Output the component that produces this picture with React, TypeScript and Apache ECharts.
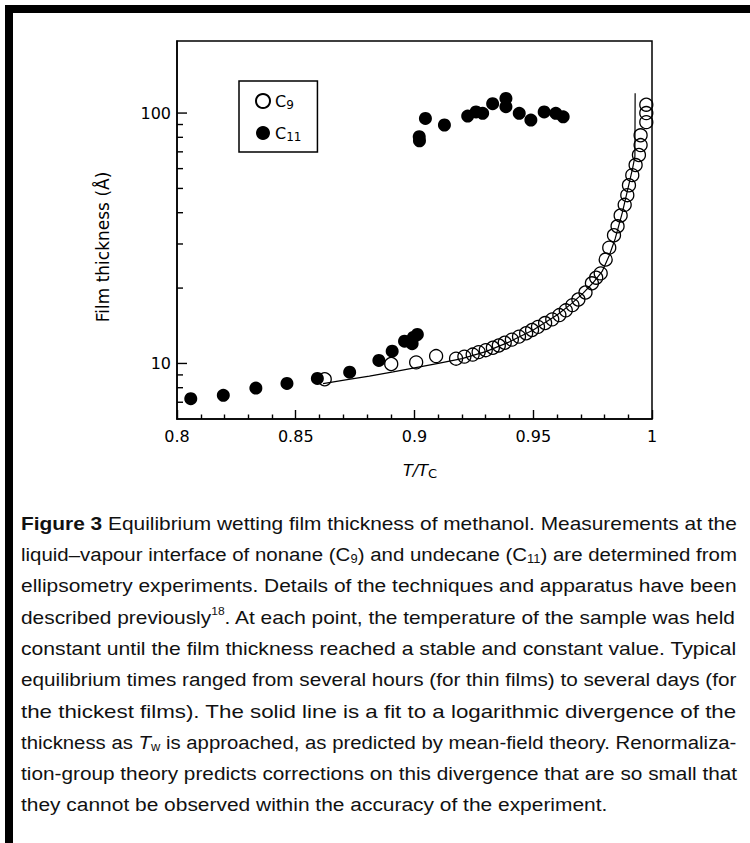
import React, { useEffect, useRef } from 'react';
import * as echarts from 'echarts';

// ---- data ----
const X_MIN = 0.8;
const X_MAX = 1;
const X_STEP = 0.05;
const Y_MIN = 6;
const Y_MAX = 194;
const Y_MAJOR = [10, 100];
const Y_MINOR = [7, 8, 9, 20, 30, 40, 50, 60, 70, 80, 90];

const C9_T = [0.8622, 0.8902, 0.9007, 0.9091, 0.9175, 0.921, 0.9245, 0.927, 0.930, 0.933, 0.9355, 0.938, 0.941, 0.944, 0.947, 0.9495, 0.952, 0.955, 0.958, 0.961, 0.9637, 0.9665, 0.969, 0.972, 0.9747, 0.9765, 0.9784, 0.9805, 0.982, 0.984, 0.9855, 0.9868, 0.9885, 0.9896, 0.9903, 0.9917, 0.9931, 0.9945, 0.9952, 0.9952, 0.9976, 0.9976, 0.9976];
const C9_V = [8.65, 9.95, 10.1, 10.7, 10.45, 10.65, 10.85, 11.1, 11.3, 11.55, 11.8, 12.1, 12.45, 12.8, 13.2, 13.6, 14.0, 14.5, 15.0, 15.6, 16.3, 17.1, 18.0, 19.2, 20.9, 22.0, 22.9, 26, 29, 32.5, 35.3, 39, 43, 47, 51.5, 56.5, 62, 68, 74.5, 81.5, 92, 100, 108];

const C11_T = [0.8058, 0.8195, 0.8332, 0.8463, 0.8591, 0.8727, 0.885, 0.8906, 0.8958, 0.899, 0.8995, 0.9012, 0.9021, 0.902, 0.9046, 0.9126, 0.9224, 0.9259, 0.9287, 0.9329, 0.9385, 0.9385, 0.9441, 0.949, 0.9546, 0.9595, 0.9626];
const C11_V = [7.23, 7.46, 7.97, 8.32, 8.71, 9.23, 10.28, 11.19, 12.27, 12.0, 12.7, 13.05, 77.5, 80.5, 95.2, 89.6, 97.3, 101, 99.8, 109, 114.4, 106, 99.8, 93.8, 101, 99.8, 96.6];

const FIT_T = [0.8615, 0.871, 0.881, 0.891, 0.900, 0.910, 0.920, 0.930, 0.940, 0.950, 0.960, 0.966, 0.971, 0.975, 0.979, 0.982, 0.9845, 0.9875, 0.9903, 0.9918, 0.9928, 0.9929];
const FIT_V = [8.3, 8.6, 8.9, 9.25, 9.6, 10.0, 10.45, 11.15, 12.2, 13.6, 15.6, 17.3, 19.1, 20.9, 23.3, 27, 31.5, 40, 52, 60, 67, 120];

const SERIES_NAMES = ['C9', 'C11'];
const LEGEND_LABELS: Record<string, string> = { C9: 'C{s|9}', C11: 'C{s|11}' };
const Y_TITLE = 'Film thickness (Å)';
const X_TITLE = '{i|T/T}{s|C}';

type Seg = [string, string];
const CAPTION: Seg[][] = [
  [['b', 'Figure 3'], ['', ' Equilibrium wetting film thickness of methanol. Measurements at the']],
  [['', 'liquid–vapour interface of nonane (C'], ['sub', '9'], ['', ') and undecane (C'], ['sub', '11'], ['', ') are determined from']],
  [['', 'ellipsometry experiments. Details of the techniques and apparatus have been']],
  [['', 'described previously'], ['sup', '18'], ['', '. At each point, the temperature of the sample was held']],
  [['', 'constant until the film thickness reached a stable and constant value. Typical']],
  [['', 'equilibrium times ranged from several hours (for thin films) to several days (for']],
  [['', 'the thickest films). The solid line is a fit to a logarithmic divergence of the']],
  [['', 'thickness as '], ['i', 'T'], ['sub', 'w'], ['', ' is approached, as predicted by mean-field theory. Renormaliza-']],
  [['', 'tion-group theory predicts corrections on this divergence that are so small that']],
  [['', 'they cannot be observed within the accuracy of the experiment.']],
];

const PLOT_FONT = 'DejaVu Sans';
const CAP_FONT = 'Liberation Sans';
const CAP_SIZE = 19;
const CAP_SUB = 12;

function measure(segs: Seg[]): number {
  const ctx = document.createElement('canvas').getContext('2d');
  if (!ctx) return 700;
  let w = 0;
  for (const [st, t] of segs) {
    let f = `${CAP_SIZE}px "${CAP_FONT}"`;
    if (st === 'b') f = `bold ${CAP_SIZE}px "${CAP_FONT}"`;
    if (st === 'i') f = `italic ${CAP_SIZE}px "${CAP_FONT}"`;
    if (st === 'sub' || st === 'sup') f = `${CAP_SUB}px "${CAP_FONT}"`;
    ctx.font = f;
    w += ctx.measureText(t).width;
  }
  return w;
}

function yTickSeries(values: number[], len: number) {
  return {
    type: 'custom',
    coordinateSystem: 'cartesian2d',
    silent: true,
    clip: false,
    z: 10,
    encode: { x: 0, y: 1 },
    data: values.map((v) => [X_MIN, v]),
    renderItem: (_params: any, api: any) => {
      const p = api.coord([api.value(0), api.value(1)]);
      return {
        type: 'line',
        shape: { x1: p[0], y1: p[1], x2: p[0] + len, y2: p[1] },
        style: { stroke: '#000', lineWidth: 1.4 },
      };
    },
  };
}

export default function App() {
  const ref = useRef<HTMLDivElement>(null);
  useEffect(() => {
    if (!ref.current) return;
    const chart = echarts.init(ref.current, null, { renderer: 'svg' });

    const capLeft = 21;
    const capRight = 737;
    const widths = CAPTION.map(measure);
    const scales = widths.map((w) => (capRight - capLeft) / w);
    const avgScale = scales.slice(0, -1).reduce((a, b) => a + b, 0) / (scales.length - 1);
    const capRich = {
      b: { fontWeight: 'bold', fontSize: CAP_SIZE, fontFamily: CAP_FONT, fill: '#111' },
      i: { fontStyle: 'italic', fontSize: CAP_SIZE, fontFamily: CAP_FONT, fill: '#111' },
      sub: { fontSize: CAP_SUB, fontFamily: CAP_FONT, fill: '#111', verticalAlign: 'bottom', lineHeight: 12 },
      sup: { fontSize: 11, fontFamily: CAP_FONT, fill: '#111', verticalAlign: 'top', lineHeight: 11 },
    };
    const captionEls = CAPTION.map((segs, i) => ({
      type: 'text',
      x: capLeft,
      y: 523 + i * 31.3,
      scaleX: i === CAPTION.length - 1 ? avgScale : scales[i],
      style: {
        text: segs.map(([st, t]) => (st ? `{${st}|${t}}` : t)).join(''),
        fontSize: CAP_SIZE,
        fontFamily: CAP_FONT,
        fill: '#111',
        align: 'left',
        verticalAlign: 'middle',
        lineHeight: 22,
        rich: capRich,
      },
    }));

    const lineStyle = { color: '#000', width: 1.5 };
    const tickStyle = { color: '#000', width: 1.4, opacity: 1 };
    const labelStyle = { color: '#000', fontFamily: PLOT_FONT, fontSize: 16 };

    chart.setOption({
      animation: false,
      backgroundColor: '#fff',
      grid: { left: 177, right: 98, top: 41, bottom: 424, show: true, borderColor: '#000', borderWidth: 1.5 },
      legend: {
        data: SERIES_NAMES,
        left: 239,
        top: 81,
        orient: 'vertical',
        selectedMode: false,
        icon: 'circle',
        itemWidth: 14,
        itemHeight: 14,
        itemGap: 12,
        itemTextGap: 9,
        padding: [10, 16, 9, 16],
        borderColor: '#000',
        borderWidth: 1.5,
        formatter: (name: string) => LEGEND_LABELS[name],
        textStyle: {
          color: '#000',
          fontFamily: PLOT_FONT,
          fontSize: 16,
          lineHeight: 20,
          rich: { s: { color: '#000', fontFamily: PLOT_FONT, fontSize: 12, verticalAlign: 'bottom', lineHeight: 12 } },
        },
      },
      xAxis: {
        type: 'value',
        min: X_MIN,
        max: X_MAX,
        interval: X_STEP,
        axisLine: { show: true, onZero: false, lineStyle },
        axisTick: { show: true, inside: true, length: 9, lineStyle: tickStyle },
        minorTick: { show: true, splitNumber: 5, length: 4.5, lineStyle: tickStyle },
        splitLine: { show: false },
        minorSplitLine: { show: false },
        axisLabel: { ...labelStyle, margin: 9 },
      },
      yAxis: {
        type: 'log',
        logBase: 10,
        min: Y_MIN,
        max: Y_MAX,
        position: 'left',
        axisLine: { show: true, lineStyle },
        axisTick: { show: false },
        axisLabel: { ...labelStyle, margin: 6, customValues: Y_MAJOR },
        splitLine: { show: false },
      },
      series: [
        {
          name: 'fit',
          type: 'line',
          data: FIT_T.map((t, i) => [t, FIT_V[i]]),
          showSymbol: false,
          symbol: 'none',
          lineStyle: { color: '#000', width: 1.2 },
          silent: true,
          z: 1,
        },
        {
          name: 'C9',
          type: 'scatter',
          data: C9_T.map((t, i) => [t, C9_V[i]]),
          symbol: 'circle',
          symbolSize: 13,
          itemStyle: { color: 'rgba(255,255,255,0)', borderColor: '#000', borderWidth: 1.3, opacity: 1 },
          clip: false,
          z: 2,
        },
        {
          name: 'C11',
          type: 'scatter',
          data: C11_T.map((t, i) => [t, C11_V[i]]),
          symbol: 'circle',
          symbolSize: 13,
          itemStyle: { color: '#000', opacity: 1 },
          clip: false,
          z: 3,
        },
        yTickSeries(Y_MAJOR, 10),
        yTickSeries(Y_MINOR, 6),
      ],
      graphic: [
        { type: 'rect', shape: { x: 5, y: 5, width: 745, height: 8 }, style: { fill: '#000' } },
        { type: 'rect', shape: { x: 5, y: 5, width: 8, height: 838 }, style: { fill: '#000' } },
        {
          type: 'text',
          x: 103,
          y: 247,
          rotation: Math.PI / 2,
          style: { text: Y_TITLE, fontFamily: PLOT_FONT, fontSize: 17, fill: '#000', align: 'center', verticalAlign: 'middle' },
        },
        {
          type: 'text',
          x: 420,
          y: 470,
          style: {
            text: X_TITLE,
            fontFamily: PLOT_FONT,
            fontSize: 16,
            fill: '#000',
            align: 'center',
            verticalAlign: 'middle',
            lineHeight: 20,
            rich: {
              i: { fontStyle: 'italic', fontFamily: PLOT_FONT, fontSize: 16, fill: '#000' },
              s: { fontFamily: PLOT_FONT, fontSize: 13, fill: '#000', verticalAlign: 'bottom', lineHeight: 13 },
            },
          },
        },
        ...captionEls,
      ],
    });
    return () => chart.dispose();
  }, []);
  return <div ref={ref} style={{ position: 'fixed', left: 0, top: 0, width: 750, height: 843 }} />;
}
